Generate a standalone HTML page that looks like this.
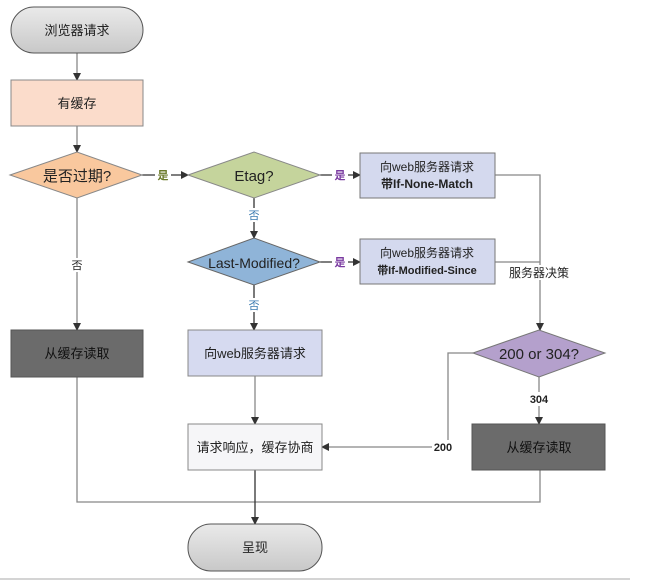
<!DOCTYPE html>
<html><head><meta charset="utf-8"><style>
html,body{margin:0;padding:0;background:#fff;}
svg text{font-family:"Liberation Sans","Noto Sans CJK SC",sans-serif;}
</style></head><body>
<svg width="669" height="580" viewBox="0 0 669 580" xmlns="http://www.w3.org/2000/svg">
<defs>
<linearGradient id="gr" x1="0" y1="0" x2="0" y2="1"><stop offset="0" stop-color="#eaeaea"/><stop offset="1" stop-color="#c8c8c8"/></linearGradient>
<marker id="a" markerWidth="8" markerHeight="8" refX="7" refY="4" orient="auto" markerUnits="userSpaceOnUse"><path d="M0,0 L8,4 L0,8 z" fill="#333"/></marker>
</defs>
<g stroke="#888" stroke-width="1.3" fill="none">
<line x1="77" y1="53" x2="77" y2="80" marker-end="url(#a)"/>
<line x1="77" y1="126" x2="77" y2="152" marker-end="url(#a)"/>
<line x1="142" y1="175" x2="188" y2="175" marker-end="url(#a)" stroke="#333"/>
<line x1="320" y1="175" x2="360" y2="175" marker-end="url(#a)" stroke="#333"/>
<line x1="254" y1="198" x2="254" y2="238" marker-end="url(#a)" stroke="#333"/>
<line x1="320" y1="262" x2="360" y2="262" marker-end="url(#a)" stroke="#333"/>
<line x1="254" y1="285" x2="254" y2="330" marker-end="url(#a)" stroke="#333"/>
<polyline points="495,175 540,175 540,330" marker-end="url(#a)"/>
<line x1="495" y1="262" x2="540" y2="262"/>
<line x1="77" y1="198" x2="77" y2="330" marker-end="url(#a)"/>
<line x1="539" y1="377" x2="539" y2="424" marker-end="url(#a)"/>
<polyline points="473,353 448,353 448,447 322,447" marker-end="url(#a)"/>
<line x1="255" y1="376" x2="255" y2="424" marker-end="url(#a)"/>
<polyline points="77,377 77,502 540,502 540,470"/>
<line x1="255" y1="470" x2="255" y2="524" marker-end="url(#a)" stroke="#333"/>
<line x1="0" y1="579" x2="630" y2="579" stroke="#bbb"/>
</g>
<g font-size="13" text-anchor="middle">
<rect x="11" y="7" width="132" height="46" rx="23" fill="url(#gr)" stroke="#555"/>
<text x="77" y="35" fill="#222">浏览器请求</text>
<rect x="11" y="80" width="132" height="46" fill="#fbdccb" stroke="#888"/>
<text x="77" y="108" fill="#222">有缓存</text>
<polygon points="10,175 77,152 142,175 77,198" fill="#f9c89e" stroke="#888"/>
<text x="77" y="181" font-size="15" fill="#222">是否过期?</text>
<polygon points="188,175 254,152 320,175 254,198" fill="#c5d49c" stroke="#888"/>
<text x="254" y="181" font-size="15" fill="#222">Etag?</text>
<polygon points="188,262 254,238 320,262 254,285" fill="#8fb4d8" stroke="#666"/>
<text x="254" y="268" font-size="14" fill="#222">Last-Modified?</text>
<rect x="360" y="153" width="135" height="45" fill="#d4d9ee" stroke="#777"/>
<text x="427" y="171" font-size="12" fill="#222">向web服务器请求</text>
<text x="427" y="188" font-size="12" font-weight="bold" fill="#222">带If-None-Match</text>
<rect x="360" y="239" width="135" height="45" fill="#d4d9ee" stroke="#777"/>
<text x="427" y="257" font-size="12" fill="#222">向web服务器请求</text>
<text x="427" y="274" font-size="11" font-weight="bold" fill="#222">带If-Modified-Since</text>
<rect x="11" y="330" width="132" height="47" fill="#6b6b6b" stroke="#555"/>
<text x="77" y="358" fill="#111">从缓存读取</text>
<rect x="188" y="330" width="134" height="46" fill="#d6daf0" stroke="#888"/>
<text x="255" y="358" fill="#222">向web服务器请求</text>
<polygon points="473,353 539,330 605,353 539,377" fill="#b4a0cc" stroke="#777"/>
<text x="539" y="359" font-size="15" fill="#222">200 or 304?</text>
<rect x="472" y="424" width="133" height="46" fill="#6b6b6b" stroke="#555"/>
<text x="539" y="452" fill="#111">从缓存读取</text>
<rect x="188" y="424" width="134" height="46" fill="#f6f6f8" stroke="#888"/>
<text x="255" y="452" fill="#222">请求响应，缓存协商</text>
<rect x="188" y="524" width="134" height="47" rx="23" fill="url(#gr)" stroke="#555"/>
<text x="255" y="552" fill="#222">呈现</text>
<g font-size="11">
<rect x="155" y="168" width="16" height="14" fill="#fff"/><text x="163" y="179" fill="#6b7a2a" font-weight="bold">是</text>
<rect x="332" y="168" width="16" height="14" fill="#fff"/><text x="340" y="179" fill="#7a3aa0" font-weight="bold">是</text>
<rect x="332" y="255" width="16" height="14" fill="#fff"/><text x="340" y="266" fill="#7a3aa0" font-weight="bold">是</text>
<rect x="246" y="208" width="16" height="14" fill="#fff"/><text x="254" y="219" fill="#3a7ab0">否</text>
<rect x="246" y="298" width="16" height="14" fill="#fff"/><text x="254" y="309" fill="#3a7ab0">否</text>
<rect x="69" y="258" width="16" height="14" fill="#fff"/><text x="77" y="269" fill="#222">否</text>
<rect x="505" y="265" width="68" height="15" fill="#fff"/><text x="539" y="277" font-size="12" fill="#222">服务器决策</text>
<rect x="528" y="392" width="22" height="14" fill="#fff"/><text x="539" y="403" font-weight="bold" fill="#222">304</text>
<rect x="432" y="440" width="22" height="14" fill="#fff"/><text x="443" y="451" font-weight="bold" fill="#222">200</text>
</g>
</g>
</svg>
</body></html>
